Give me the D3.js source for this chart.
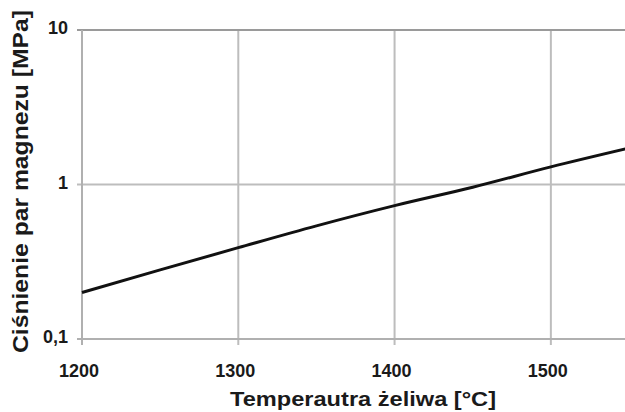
<!DOCTYPE html>
<html>
<head>
<meta charset="utf-8">
<script src="https://cdn.jsdelivr.net/npm/d3@7"></script>
<style>
  html, body { margin: 0; padding: 0; background: #fff; overflow: hidden; }
  svg { display: block; }
  text { font-family: "Liberation Sans", Arial, sans-serif; font-weight: bold; fill: #1a1a1a; }
</style>
</head>
<body>
<svg id="chart" width="625" height="412"></svg>
<script>
// Magnesium vapour pressure vs. cast iron temperature
const temps = [1200, 1250, 1300, 1350, 1400, 1450, 1500, 1550];
const pressures = [0.2, 0.28, 0.39, 0.54, 0.73, 0.96, 1.3, 1.72];
const xTicks = [1200, 1300, 1400, 1500];
const yTicks = [0.1, 1, 10];
const yTickLabels = ["0,1", "1", "10"];

const svg = d3.select("#chart");
const margin = { left: 82, top: 30, bottom: 339 };

const x = d3.scaleLinear().domain([1200, 1550]).range([margin.left, 629]);
const y = d3.scaleLog().domain([0.1, 10]).range([margin.bottom, margin.top]);

// vertical gridlines with short ticks below the axis
svg.append("g").selectAll("line").data(xTicks.slice(1)).join("line")
  .attr("x1", d => x(d)).attr("x2", d => x(d))
  .attr("y1", y(10)).attr("y2", y(0.1) + 6)
  .attr("stroke", "#bdbdbd").attr("stroke-width", 2);

// horizontal gridline at 1 MPa
svg.append("line")
  .attr("x1", x(1200) - 5).attr("x2", 625)
  .attr("y1", y(1)).attr("y2", y(1))
  .attr("stroke", "#bdbdbd").attr("stroke-width", 2);

// top frame line at 10 MPa
svg.append("line")
  .attr("x1", x(1200) - 5).attr("x2", 625)
  .attr("y1", y(10)).attr("y2", y(10))
  .attr("stroke", "#9a9a9a").attr("stroke-width", 2);

// bottom axis
svg.append("line")
  .attr("x1", x(1200) - 5).attr("x2", 625)
  .attr("y1", y(0.1)).attr("y2", y(0.1))
  .attr("stroke", "#b0b0b0").attr("stroke-width", 2);

// left axis
svg.append("line")
  .attr("x1", x(1200)).attr("x2", x(1200))
  .attr("y1", y(10)).attr("y2", y(0.1) + 6)
  .attr("stroke", "#b0b0b0").attr("stroke-width", 2);

// y tick labels
svg.append("g").selectAll("text").data(yTicks).join("text")
  .attr("x", 68).attr("y", d => y(d) + 4)
  .attr("text-anchor", "end")
  .attr("font-size", 18)
  .text((d, i) => yTickLabels[i]);

// x tick labels
svg.append("g").selectAll("text").data(xTicks).join("text")
  .attr("x", d => x(d) - 3).attr("y", 377)
  .attr("text-anchor", "middle")
  .attr("font-size", 18)
  .text(d => d);

// pressure curve
const line = d3.line().x((d, i) => x(temps[i])).y(d => y(d)).curve(d3.curveMonotoneX);
svg.append("path").datum(pressures)
  .attr("d", line)
  .attr("fill", "none").attr("stroke", "#111").attr("stroke-width", 3);

// axis titles
svg.append("text")
  .attr("x", 230).attr("y", 406)
  .attr("font-size", 21)
  .attr("textLength", 266).attr("lengthAdjust", "spacingAndGlyphs")
  .text("Temperautra żeliwa [°C]");

svg.append("text")
  .attr("transform", "translate(28,353) rotate(-90)")
  .attr("font-size", 22)
  .attr("textLength", 343).attr("lengthAdjust", "spacingAndGlyphs")
  .text("Ciśnienie par magnezu [MPa]");
</script>
</body>
</html>
